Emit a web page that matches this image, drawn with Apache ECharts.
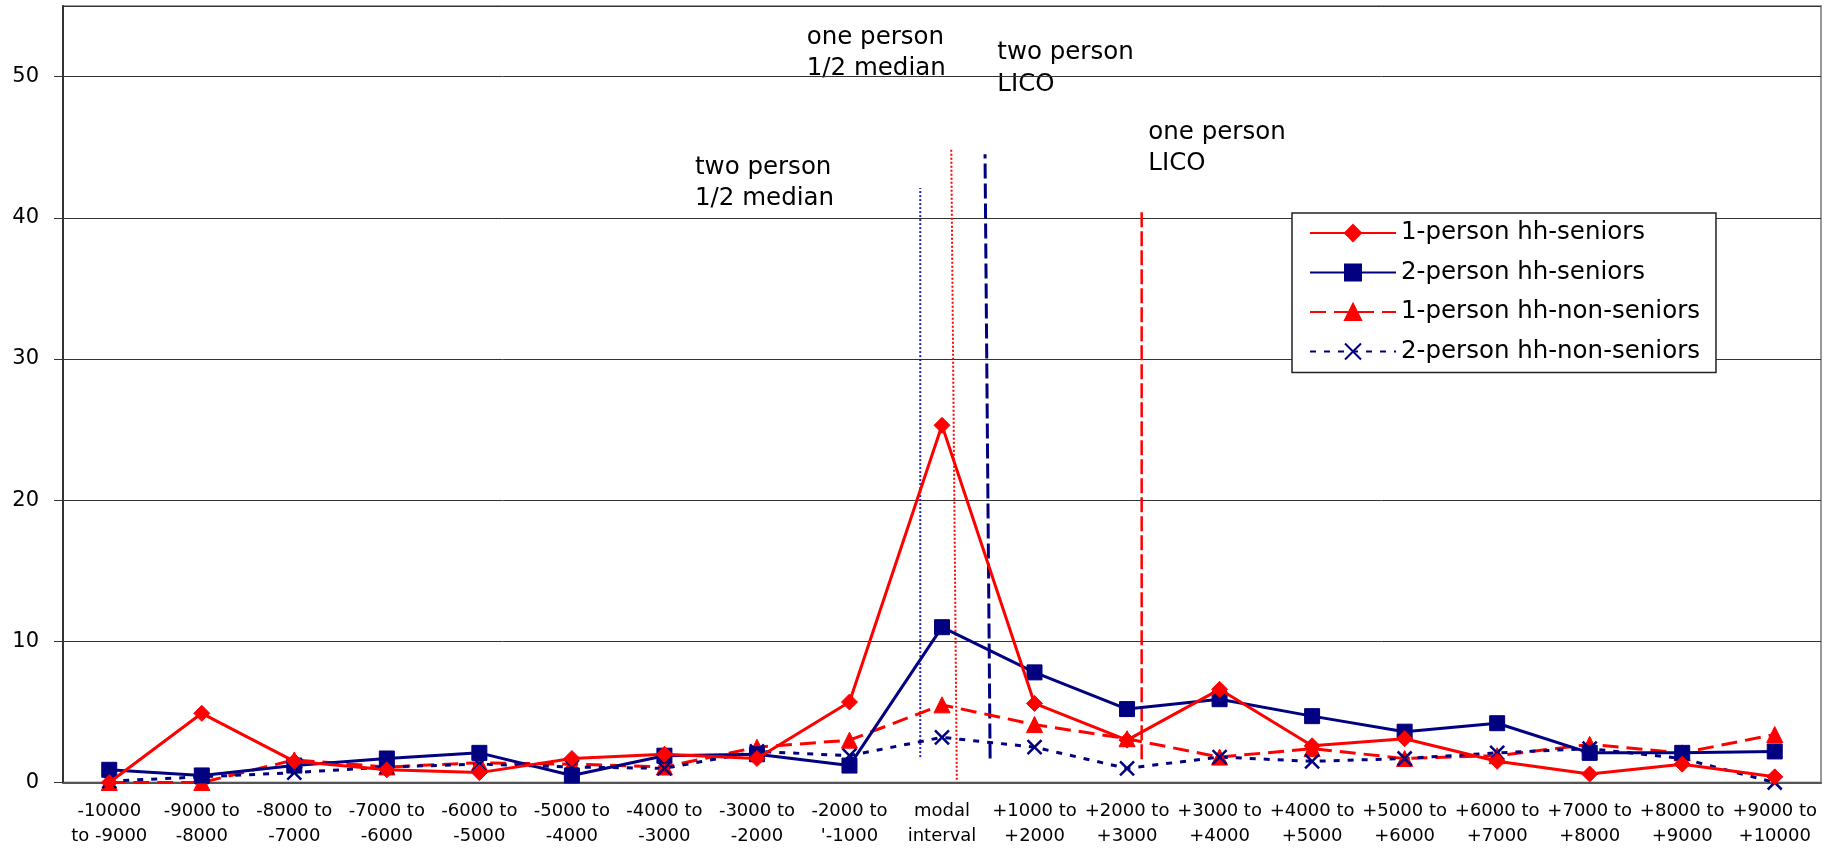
<!DOCTYPE html>
<html>
<head>
<meta charset="utf-8">
<script src="https://cdn.jsdelivr.net/npm/echarts@6/dist/echarts.min.js"></script>
<style>
  html, body { margin: 0; padding: 0; background: #fff; }
  #chart { width: 1830px; height: 851px; }
</style>
</head>
<body>
<div id="chart"></div>
<script>
// income gap intervals (x axis)
var categories = [
  "-10000\nto -9000", "-9000 to\n-8000", "-8000 to\n-7000", "-7000 to\n-6000",
  "-6000 to\n-5000", "-5000 to\n-4000", "-4000 to\n-3000", "-3000 to\n-2000",
  "-2000 to\n'-1000", "modal\ninterval", "+1000 to\n+2000", "+2000 to\n+3000",
  "+3000 to\n+4000", "+4000 to\n+5000", "+5000 to\n+6000", "+6000 to\n+7000",
  "+7000 to\n+8000", "+8000 to\n+9000", "+9000 to\n+10000"
];

var onePersonSeniors    = [0, 4.9, 1.5, 0.9, 0.7, 1.7, 2.0, 1.7, 5.7, 25.3, 5.6, 3.0, 6.6, 2.6, 3.1, 1.5, 0.6, 1.3, 0.4];
var twoPersonSeniors    = [0.9, 0.5, 1.2, 1.7, 2.1, 0.5, 1.9, 2.0, 1.2, 11.0, 7.8, 5.2, 5.9, 4.7, 3.6, 4.2, 2.1, 2.1, 2.2];
var onePersonNonSeniors = [0, 0, 1.6, 1.1, 1.4, 1.3, 1.1, 2.5, 3.0, 5.5, 4.1, 3.1, 1.8, 2.4, 1.7, 1.9, 2.7, 2.1, 3.4];
var twoPersonNonSeniors = [0.1, 0.4, 0.7, 1.1, 1.3, 1.1, 1.0, 2.2, 1.9, 3.2, 2.5, 1.0, 1.8, 1.5, 1.7, 2.1, 2.4, 1.7, 0];

// threshold lines: [x, y] ends, x in category widths from the left edge
var twoPersonHalfMedian = [[9.265, 1.8], [9.265, 42.1]];
var onePersonHalfMedian = [[9.66, 0.2], [9.60, 44.9]];
var twoPersonLico       = [[10.02, 1.7], [9.965, 44.5]];
var onePersonLico       = [[11.658, 1.65], [11.658, 40.4]];

var yTicks = { min: 0, max: 55, interval: 10 };

var FONT = "DejaVu Sans";
var RED = "#ff0000", NAVY = "#000080";

var chart = echarts.init(document.getElementById("chart"));

function refLine(data, color, width, dash) {
  return {
    type: "line",
    xAxisIndex: 1,
    data: data,
    symbol: "none",
    silent: true,
    z: 1,
    lineStyle: { color: color, width: width, type: dash }
  };
}

function annot(text, x, y) {
  return {
    type: "text",
    x: x,
    y: y,
    style: {
      text: text,
      font: "24.5px '" + FONT + "'",
      fill: "#000",
      lineHeight: 31.5,
      verticalAlign: "top"
    }
  };
}

var option = {
  animation: false,
  backgroundColor: "#fff",
  textStyle: { fontFamily: FONT },
  grid: {
    left: 63, right: 9, top: 6, bottom: 68.5,
    show: true, borderColor: "#999", borderWidth: 2, backgroundColor: "#fff"
  },
  legend: {
    data: ["1-person hh-seniors", "2-person hh-seniors", "1-person hh-non-seniors", "2-person hh-non-seniors"],
    orient: "vertical",
    left: 1292, top: 213,
    backgroundColor: "#fff",
    borderColor: "#222", borderWidth: 1.5, borderRadius: 0,
    padding: [6, 16, 7, 17],
    itemGap: 11.5,
    itemWidth: 86, itemHeight: 20,
    textStyle: { fontFamily: FONT, fontSize: 24.5, lineHeight: 28, color: "#000" }
  },
  xAxis: [
    {
      type: "category",
      data: categories,
      axisLine: { lineStyle: { color: "#555", width: 2 } },
      axisTick: { length: 7, lineStyle: { color: "#333", width: 1.5 } },
      axisLabel: { interval: 0, margin: 16, fontFamily: FONT, fontSize: 18, lineHeight: 25, color: "#000" },
      splitLine: { show: false }
    },
    { type: "value", min: 0, max: 19, show: false }
  ],
  yAxis: {
    type: "value",
    min: yTicks.min, max: yTicks.max, interval: yTicks.interval,
    axisLine: { show: true, lineStyle: { color: "#333", width: 2 } },
    axisTick: { show: true, length: 9, lineStyle: { color: "#333" } },
    axisLabel: { margin: 24, fontFamily: FONT, fontSize: 21, color: "#000", showMaxLabel: false },
    splitLine: { lineStyle: { color: "#333", width: 1 } }
  },
  series: [
    refLine(twoPersonHalfMedian, "#2020c0", 2, [2, 2]),
    refLine(onePersonHalfMedian, RED, 2, [2, 2]),
    refLine(twoPersonLico, NAVY, 3, [15, 5]),
    refLine(onePersonLico, RED, 2.5, [15, 4]),
    {
      name: "1-person hh-seniors", type: "line", data: onePersonSeniors,
      symbol: "diamond", symbolSize: 16, showAllSymbol: true, z: 5,
      lineStyle: { color: RED, width: 3 },
      itemStyle: { color: RED, borderColor: RED, borderWidth: 1 }
    },
    {
      name: "2-person hh-seniors", type: "line", data: twoPersonSeniors,
      symbol: "rect", symbolSize: 15, showAllSymbol: true, z: 4,
      lineStyle: { color: NAVY, width: 3 },
      itemStyle: { color: NAVY, borderColor: NAVY, borderWidth: 1 }
    },
    {
      name: "1-person hh-non-seniors", type: "line", data: onePersonNonSeniors,
      symbol: "triangle", symbolSize: 16, showAllSymbol: true, z: 3,
      lineStyle: { color: RED, width: 3, type: [16, 8] },
      itemStyle: { color: RED, borderColor: RED, borderWidth: 1 }
    },
    {
      name: "2-person hh-non-seniors", type: "line", data: twoPersonNonSeniors,
      symbol: "path://M0,0L10,10M10,0L0,10", symbolSize: 14, showAllSymbol: true, z: 3,
      lineStyle: { color: NAVY, width: 3, type: [6, 8] },
      itemStyle: { color: NAVY, borderColor: NAVY, borderWidth: 2.5 }
    }
  ],
  graphic: [
    annot("one person\n1/2 median", 806.7, 21.6),
    annot("two person\nLICO", 997.3, 37.3),
    annot("two person\n1/2 median", 695, 151.6),
    annot("one person\nLICO", 1148.3, 116.6)
  ]
};

chart.setOption(option, true);
window.onresize = function () {
  chart.resize();
};
</script>
</body>
</html>
